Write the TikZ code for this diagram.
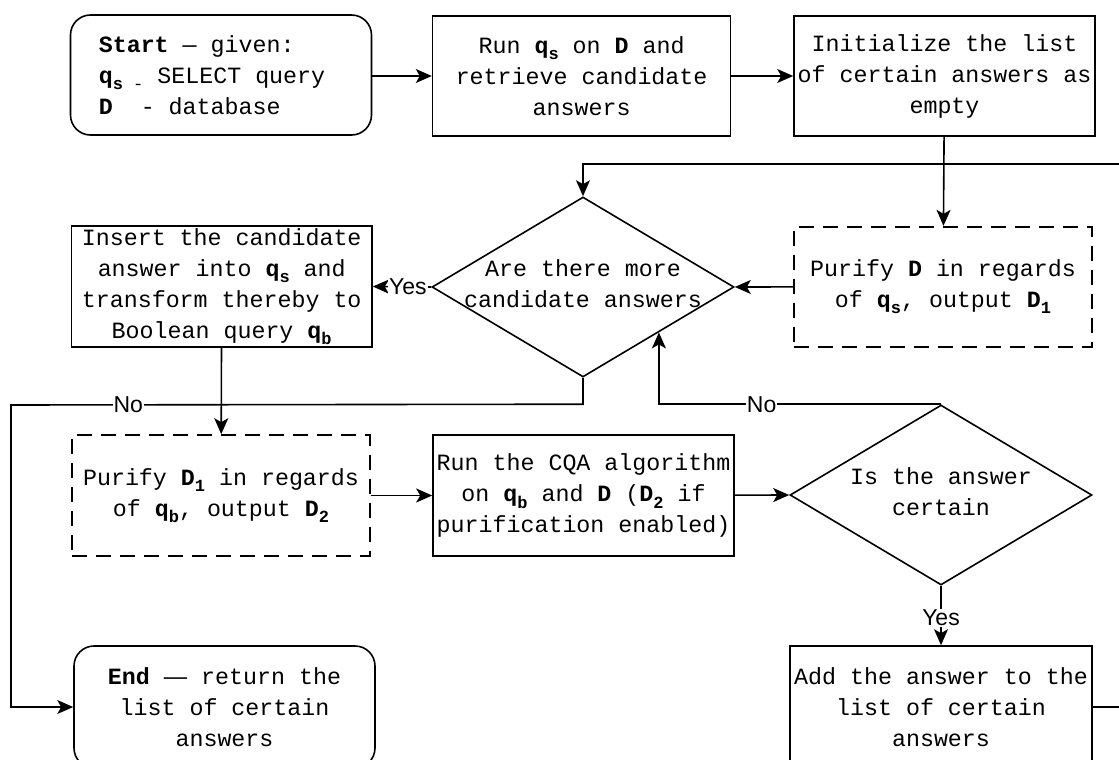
\documentclass[tikz,border=0pt]{standalone}
\usepackage{fontspec}
\setmainfont{Liberation Mono}
\newfontfamily\labelfont{Liberation Sans}
\usetikzlibrary{shapes.geometric,arrows.meta,calc}
\newcommand{\qsub}[1]{\raisebox{-0.28em}{\fontsize{17}{17}\selectfont\bfseries #1}}
\newcommand{\bq}[1]{\textbf{q}\qsub{#1}}
\newcommand{\bD}[1]{\textbf{D}\qsub{#1}}
\begin{document}
\begin{tikzpicture}[x=1pt,y=-1pt,
  font=\fontsize{23.3}{31}\selectfont,
  box/.style={draw, line width=1.6pt, align=center, inner sep=0pt},
  term/.style={box, rounded corners=20pt},
  dbox/.style={box, dash pattern=on 15pt off 9pt},
  dia/.style={draw, line width=1.6pt, diamond, inner sep=0pt, minimum width=302pt, minimum height=180pt},
  dtext/.style={align=center, inner sep=0pt},
  arr/.style={-{Stealth[length=16pt,width=14pt,inset=4pt]}, line width=1.6pt},
  lbl/.style={font=\labelfont\fontsize{23}{23}\selectfont, fill=white, inner sep=1pt}
]
\useasboundingbox (0,0) rectangle (1119,760);

\node[term, minimum width=301pt, minimum height=120pt, align=left] (start) at (221,75)
  {\textbf{Start} — given:\\ \textbf{q}\raisebox{-0.28em}{\fontsize{17}{17}\selectfont\textbf{s} -} SELECT query\rule{18pt}{0pt}\\ \textbf{D}~~- database};
\node[box, minimum width=298pt, minimum height=120pt] (run) at (581.6,76)
  {Run \bq{s} on \textbf{D} and\\ retrieve candidate\\ answers};
\node[box, minimum width=301pt, minimum height=120pt] (init) at (944.5,76)
  {Initialize the list\\ of certain answers as\\ empty};
\node[dbox, minimum width=298pt, minimum height=120pt] (p1) at (943,286.7)
  {Purify \textbf{D} in regards\\ of \bq{s}, output \bD{1}};
\node[dia] (d1) at (583,287) {};
\node[dtext] (d1t) at (583,284) {Are there more\\ candidate answers};
\node[box, minimum width=300.6pt, minimum height=121pt] (ins) at (221.7,286.5)
  {Insert the candidate\\ answer into \bq{s} and\\ transform thereby to\\ Boolean query \bq{b}};
\node[dbox, minimum width=297.5pt, minimum height=121pt] (p2) at (221,495.5)
  {Purify \bD{1} in regards\\ of \bq{b}, output \bD{2}};
\node[box, minimum width=301pt, minimum height=121pt] (cqa) at (583.5,495.5)
  {Run the CQA algorithm\\ on \bq{b} and \textbf{D} (\bD{2} if\\ purification enabled)};
\node[dia] (d2) at (941,495) {};
\node[dtext] (d2t) at (941,492) {Is the answer\\ certain};
\node[term, minimum width=301pt, minimum height=122pt] (end) at (224.5,707)
  {\textbf{End} {\labelfont —} return the\\ list of certain\\ answers};
\node[box, minimum width=302pt, minimum height=122pt] (add) at (941,707)
  {Add the answer to the\\ list of certain\\ answers};

\coordinate (lx) at (11,405);
\coordinate (loopR) at (1130,164);
\coordinate (noend) at ($(d1.east)!0.5!(d1.south)$);

\draw[arr] (start.east |- run.west) -- (run.west);
\draw[arr] (run) -- (init);
\draw[arr] (init) -- (p1);
\draw[arr] (p1) -- (d1.east);
\draw[arr] (d1.west) -- (ins.east) node[lbl, pos=0.4] (yes1) {Yes};
\draw[arr] (ins) -- (p2);
\draw[arr] (p2) -- (cqa);
\draw[arr] (cqa) -- (d2.west);
\draw[arr] (d2.south) -- (add.north) node[lbl, pos=0.54] (yes2) {Yes};
\draw[arr] (d2.north) -| (noend) node[lbl, pos=0.318] (no2) {No};
\draw[arr] (d1.south) -- (d1.south |- d2.north) -- (lx) node[lbl, pos=0.795] (no1) {No} |- (end.west);
\draw[arr] (add.east) -| (loopR) -| (d1.north);
\end{tikzpicture}
\end{document}
